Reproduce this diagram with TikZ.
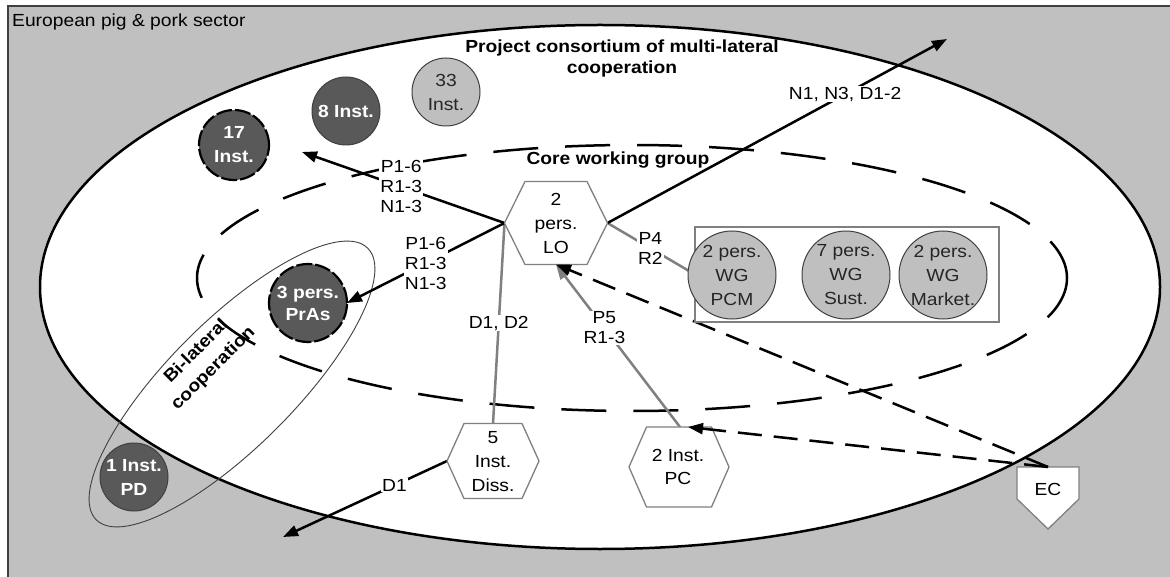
\documentclass[tikz,border=0pt]{standalone}
\usepackage{fontspec}
\setmainfont{Liberation Sans}[FakeStretch=1.1]
\usetikzlibrary{arrows.meta,calc}
\definecolor{bggray}{RGB}{192,192,192}
\definecolor{darkfill}{RGB}{89,89,89}
\definecolor{lightfill}{RGB}{191,191,191}
\definecolor{linegray}{RGB}{128,128,128}
\definecolor{edgegray}{RGB}{64,64,64}

% hexagon with flat top and bottom: name, centre, half width, half height, half top edge
\newcommand\hexshape[5]{%
  \coordinate (#1) at #2;
  \draw[hexline] ($(#1)+(-#3,0)$) -- ($(#1)+(-#5,-#4)$) -- ($(#1)+(#5,-#4)$) -- ($(#1)+(#3,0)$)
    -- ($(#1)+(#5,#4)$) -- ($(#1)+(-#5,#4)$) -- cycle;
}

\begin{document}
\begin{tikzpicture}[x=1pt,y=-1pt,
  txt/.style={font=\fontsize{17.5}{20}\selectfont, align=center, inner sep=1pt, text=black},
  lbl/.style={txt, fill=white},
  ctxt/.style={font=\fontsize{17.5}{24}\selectfont, align=center, inner sep=0pt},
  btxt/.style={font=\fontsize{17.5}{21}\selectfont\bfseries, align=center, inner sep=0pt},
  tip/.style={-{Triangle[length=15pt,width=11pt]}},
  conn/.style={line width=2.5pt, black},
  grayconn/.style={line width=2.5pt, linegray},
  dashconn/.style={line width=2.5pt, black, dash pattern=on 24pt off 12pt},
  hexline/.style={draw=linegray, fill=white, line width=1.3pt},
  circ/.style={circle, inner sep=0pt, align=center, font=\fontsize{17.5}{24}\selectfont},
  darkc/.style={circ, fill=darkfill, draw=edgegray, line width=1pt, text=white,
    font=\fontsize{17.5}{24}\selectfont\bfseries},
  lightc/.style={circ, fill=lightfill, draw=edgegray, line width=1pt, text=black!85},
  dashedc/.style={draw=black, line width=2.2pt, dash pattern=on 16pt off 3pt},
]
\useasboundingbox (0,0) rectangle (1170,577);

% sector background
\fill[bggray] (8,6) rectangle (1185,590);
\draw[edgegray, line width=1.5pt] (1185,6) -- (8,6) -- (8,590);
\node[txt, anchor=base west, inner sep=0pt] (sector) at (12,27) {European pig \& pork sector};

% consortium, bi-lateral and core group areas
\draw[fill=white, line width=2.5pt] (600,287) ellipse [x radius=560, y radius=262];
\draw[edgegray, line width=0.9pt, rotate around={45:(232,384)}] (232,384) ellipse [x radius=192, y radius=63];
\draw[line width=2.5pt, dash pattern=on 45pt off 27pt] (632,278) ellipse [x radius=435, y radius=133];

\node[btxt] (consortium) at (622,58) {Project consortium of multi-lateral\\cooperation};
\node[btxt] (core) at (618,160.5) {Core working group};
\node[btxt, rotate=45, font=\fontsize{17.5}{24}\selectfont\bfseries] (bilat) at (205,360) {Bi-lateral\\cooperation};

% connector end points
\coordinate (to17) at (302,152);
\coordinate (toout) at (947,39);
\coordinate (tosouth) at (283,537);
\coordinate (lo-w) at (504.5,223);
\coordinate (lo-e) at (607.5,223);
\coordinate (lo-s) at (556,264.5);
\coordinate (diss-n) at (493,423.5);
\coordinate (diss-w) at (447,461);
\coordinate (pc-n) at (680,427);
\coordinate (pc-ne) at (688,427);
\coordinate (ec-n) at (1048,467);
\coordinate (wg-w) at (695,274.5);
\coordinate (pras-e) at (347,303);

% connectors
\draw[grayconn] (lo-w) -- node[lbl, pos=0.5] (lD) {D1, D2} (diss-n);
\draw[grayconn] (lo-e) -- node[lbl, pos=0.49] (lP4) {P4\\R2} (wg-w);
\draw[grayconn, tip] (pc-n) -- node[lbl, pos=0.61] (lP5) {P5\\R1-3} (lo-s);
\draw[conn, tip] (lo-w) -- node[lbl, pos=0.51] (lP1a) {P1-6\\R1-3\\N1-3} (to17);
\draw[conn, tip] (lo-w) -- node[lbl, pos=0.5] (lP1b) {P1-6\\R1-3\\N1-3} (pras-e);
\draw[conn, tip] (lo-e) -- node[lbl, pos=0.70] (lN) {N1, N3, D1-2} (toout);
\draw[conn, tip] (diss-w) -- node[lbl, pos=0.32] (lD1) {D1} (tosouth);

% hexagons
\hexshape{lo}{(556,223)}{51.5}{41.5}{31}
\hexshape{diss}{(493,461)}{46}{37.5}{29}
\hexshape{pc}{(679,467)}{50}{40}{32.5}
\node[ctxt] (lotext) at (556,223) {2\\pers.\\LO};
\node[ctxt] (disstext) at (493,462) {5\\Inst.\\Diss.};
\node[ctxt, font=\fontsize{17.5}{23}\selectfont] (pctext) at (678,466.5) {2 Inst.\\PC};

% EC
\draw[hexline] (ec-n) -- (1079,467) -- (1079,499) -- (1048,529) -- (1017,499) -- (1017,467) -- cycle;
\node[ctxt] (ec) at (1048,489) {EC};

% EC links, drawn over the hexagons
\draw[dashconn, tip] (ec-n) -- (lo-s);
\draw[dashconn, tip] (ec-n) -- (pc-ne);

% institution circles
\node[darkc, minimum size=68pt] (n8) at (346,111) {8 Inst.};
\node[darkc, dashedc, minimum size=70pt] (n17) at (234,145) {17\\Inst.};
\node[lightc, minimum size=68pt] (n33) at (446,92) {33\\Inst.};
\node[darkc, dashedc, minimum size=78pt, font=\fontsize{17.5}{22}\selectfont\bfseries] (pras) at (308,303) {3 pers.\\PrAs};
\node[darkc, minimum size=68pt] (pd) at (134,477) {1 Inst.\\PD};

% working groups
\node[draw=linegray, fill=white, line width=1.3pt, minimum width=304pt, minimum height=95pt, inner sep=0pt] (wgbox) at (847,274.5) {};
\node[lightc, minimum size=88pt] (wgpcm) at (732,275) {2 pers.\\WG\\PCM};
\node[lightc, minimum size=88pt] (wgsust) at (846,275) {7 pers.\\WG\\Sust.};
\node[lightc, minimum size=88pt] (wgmark) at (943,275) {2 pers.\\WG\\Market.};
\end{tikzpicture}
\end{document}
